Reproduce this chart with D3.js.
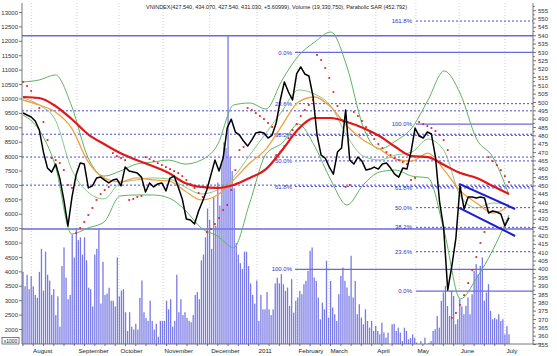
<!DOCTYPE html>
<html><head><meta charset="utf-8">
<script src="https://cdn.jsdelivr.net/npm/d3@7"></script>
<style>body{margin:0;background:#fff}text{font-family:Arial,"Liberation Sans",sans-serif}</style>
</head><body><svg id="c" width="557" height="356"></svg>
<script>
// ---- DATA (right-axis index units unless noted) ----
const title = "VNINDEX(427.540, 434.070, 427.540, 431.030, +5.60999), Volume (19,330,750), Parabolic SAR (452.792)";
const price = [493.7,492.5,491.3,488.9,483.5,470.3,460.7,458.3,463.1,454.7,
441.6,426.0,443.4,456.5,463.7,463.1,448.8,450.0,454.7,455.3,
453.5,451.8,453.5,454.1,450.0,461.3,458.9,458.3,457.7,455.3,
446.4,451.8,449.4,451.2,451.8,447.0,454.7,455.9,449.4,442.2,
430.2,429.6,427.2,435.0,441.0,447.6,456.5,465.5,458.9,466.7,
484.7,490.0,482.3,480.5,476.9,473.9,477.5,481.7,482.3,481.7,
478.7,480.5,487.7,501.5,512.3,506.3,501.5,517.1,521.3,517.1,
515.9,503.9,480.5,468.5,466.7,461.3,457.1,470.3,472.7,495.5,
465.5,463.1,467.3,464.9,459.5,460.1,461.3,460.1,463.1,463.7,
460.7,457.1,455.3,460.7,460.1,470.3,484.7,479.9,478.7,482.3,
481.1,467.3,440.4,424.8,387.6,402.0,418.8,450.0,436.2,443.4,
443.4,442.8,443.4,442.8,433.8,435.0,434.4,433.2,426.0,431.0];
const sar = [512.3,509.9,506.9,502.7,496.7,488.3,477.5,466.7,465.5,463.7,
459.5,450.6,448.8,421.8,424.8,428.4,432.6,436.8,441.6,445.2,
447.6,449.4,469.7,467.9,466.7,465.5,441.6,442.2,443.4,444.0,
467.3,466.1,464.9,463.7,462.5,461.3,460.1,458.9,457.7,455.9,
453.6,451.2,448.8,445.8,443.4,422.4,424.2,427.2,430.8,435.6,
438.6,447.6,459.5,471.5,473.3,496.7,495.5,493.7,491.9,490.1,
487.7,485.3,468.5,470.3,473.9,478.7,483.5,487.1,491.9,495.5,
498.5,501.5,528.5,525.5,520.7,514.7,506.3,497.9,489.5,449.4,
450.6,494.3,491.9,488.9,485.3,481.7,478.1,475.1,472.7,470.3,
468.5,466.7,465.5,464.3,463.1,453.6,454.8,488.3,487.1,485.9,
484.7,482.9,480.5,477.5,471.5,370.9,373.9,378.7,384.6,391.8,
399.6,407.4,415.8,422.4,467.3,464.9,462.5,459.5,455.9,452.4];
const maSlow = [503.3,502.7,497.9,490.1,481.1,475.1,469.7,465.5,461.9,457.7,451.8,449.4,448.8,450.6,454.8,460.1,471.5,484.1,490.7,490.7,488.3,484.7,479.9,473.3,467.9,467.3,462.5,457.7,454.8,450.0,445.2];
const maFast = [501.5,498.5,494.3,484.7,464.9,454.8,452.4,454.8,453.6,453.0,447.0,441.6,444.6,453.6,463.7,472.1,486.5,500.3,503.3,497.3,485.9,477.5,472.1,466.1,464.9,469.7,459.5,447.0,439.8,433.8,438.0];
const bbUpper = [512.3,513.5,516.5,497.9,467.3,455.9,458.9,463.1,464.3,465.5,463.1,465.5,474.5,498.5,499.7,496.1,513.5,527.9,536.2,542.2,521.3,485.3,472.1,476.9,484.7,501.5,518.9,505.1,478.1,467.3,444.6];
const bbMid = [502.7,498.5,489.5,460.0,446.4,442.2,451.8,453.6,454.8,454.2,449.4,445.2,447.6,455.4,468.5,481.7,494.9,507.5,505.1,497.9,479.9,467.9,465.5,468.5,470.3,478.1,470.9,444.0,436.8,439.8,438.6];
const bbLower = [492.5,483.5,461.9,421.2,424.8,428.4,444.0,444.6,444.6,442.8,435.6,424.8,420.0,413.0,440.0,469.1,475.7,487.1,473.9,453.6,438.6,450.6,458.3,459.5,455.9,454.8,423.0,382.3,394.8,411.6,432.6];
// volume (left-axis units), one bar per session
const volume = [4000,3500,3900,3400,3850,3500,3200,3100,4000,4800,
3350,4700,3900,3700,3200,3400,2500,3150,2100,4200,
4850,3800,3050,3200,5300,4500,5500,5100,5200,4600,
5200,4400,3450,3400,2800,4600,4800,5500,2900,4350,
3200,3250,3450,3000,3000,2800,4500,3150,3350,3400,
2600,1950,2600,2100,2000,2200,2000,3100,3700,2600,
2400,2300,3000,2300,2000,2200,1750,2300,2300,2300,
3000,2700,3050,2100,2300,3900,2600,3050,2500,2600,
2400,2300,2250,2500,3200,3300,3050,
4400,4600,5200,6200,5800,4800,6600,5600,7100,6300,7800,8500,8300,12200,8000,7500,6900,5000,4600,4300,4100,
4700,4700,4200,3600,3200,2900,3700,2300,3200,2700,2700,3300,2700,2500,2700,3600,3800,3600,
3921,3573,3341,3457,2819,3747,2587,2993,3109,3341,
3225,3573,3689,4037,4733,4849,3805,3689,3109,2355,
2935,2703,4385,2413,3689,2761,2529,2297,3225,3863,
4153,3689,3457,3167,4559,3109,3689,2529,2877,2413,
2181,2703,2297,2065,2297,1949,2123,1949,1833,2239,
1900,1717,1891,1485,2181,2200,1949,2065,1891,1601,2065,1949,
1659,1700,1833,1717,1543,1427,1601,1485,1717,1369,1543,
1601,1949,2007,2471,2065,2993,3283,3515,2819,2471,
3341,3167,2181,2355,3051,2800,2529,2819,3109,2529,3225,
4037,4269,3921,4211,4501,3000,3283,3573,2645,2355,2400,2355,
2529,2297,2355,1833,2123,1833];
const leftTicks = d3.range(2000, 13001, 500);
const rightTicks = d3.range(355, 556, 5);
const monthLabels = ["August","September","October","November","December","2011","February","March","April","May","June","July"];
const monthPos = [2.1,13.2,23.5,34.3,45.7,57.3,67.1,74.9,86.4,96.2,106.8,118.0]; // in price-sample index units
const levelValues = [540,495,481,467.3,450.5,424.2];
const levelSolid = [true,false,false,false,false,true];
const fibALabels = ["0.0%","23.6%","38.2%","50.0%","61.8%","100.0%"];
const fibAValues = [530,499.3,480.3,465,449.7,400];
const fibASolid = [true,false,false,false,false,true];
const fibBLabels = ["161.8%","100.0%","61.8%","50.0%","38.2%","23.6%","0.0%"];
const fibBValues = [548.8,487,448.8,437,425.2,410.6,387];
const fibBSolid = [false,true,false,false,false,false,true];
const channelUpper = [[106.8,451.2],[120.5,436.2]];
const channelLower = [[106.8,436.8],[120.5,420.0]];

// ---- LAYOUT ----
const L = 22, R = 533, T = 0, B = 344;
const svg = d3.select("#c");
const yR = d3.scaleLinear().domain([355.3, 561.41]).range([B, T]);
const yL = d3.scaleLinear().domain([1497, 13434]).range([B, T]);
const xP = d3.scaleLinear().domain([0, price.length-1]).range([23, 509]);
const xM = d3.scaleLinear().domain([0, maSlow.length-1]).range([23, 509]);
const xV = d3.scaleLinear().domain([0, volume.length-1]).range([23, 509]);

// month grid
svg.append("g").selectAll("line").data(monthPos).join("line")
  .attr("x1", d=>xP(d)).attr("x2", d=>xP(d)).attr("y1", 3).attr("y2", B)
  .attr("stroke", "#c4c4c4").attr("stroke-dasharray", "1,2").attr("stroke-width", 0.8);

// full-width level lines
svg.append("g").selectAll("line").data(levelValues).join("line")
  .attr("x1", L).attr("x2", R).attr("y1", d=>yR(d)).attr("y2", d=>yR(d))
  .attr("stroke", (d,i)=>levelSolid[i] ? "#6a6ae0" : "#4a4ae0")
  .attr("stroke-width", (d,i)=>levelSolid[i] ? 1.3 : 1)
  .attr("stroke-dasharray", (d,i)=>levelSolid[i] ? null : "2,2");

// volume bars
svg.append("g").selectAll("rect").data(volume).join("rect")
  .attr("x", (d,i)=>xV(i)-0.65).attr("width", 1.3)
  .attr("y", d=>yL(d)).attr("height", d=>B - yL(d))
  .attr("fill", "#7a7ae6");

// fib sets
function fib(labels, values, solid, x0, lx) {
  const g = svg.append("g");
  g.selectAll("line").data(values).join("line")
    .attr("x1", x0).attr("x2", R).attr("y1", d=>yR(d)).attr("y2", d=>yR(d))
    .attr("stroke", (d,i)=>solid[i] ? "#6a6ae0" : "#4a4ae0")
    .attr("stroke-width", (d,i)=>solid[i] ? 1.3 : 1)
    .attr("stroke-dasharray", (d,i)=>solid[i] ? null : "2,2");
  g.selectAll("text").data(values).join("text")
    .attr("x", lx).attr("y", d=>yR(d)).attr("dy", "0.35em")
    .attr("text-anchor", "end").attr("font-size", 6).attr("fill", "#3030d0")
    .text((d,i)=>labels[i]);
}
fib(fibALabels, fibAValues, fibASolid, 295, 292);
fib(fibBLabels, fibBValues, fibBSolid, 416, 412);

// bands and MAs
const lineM = d3.line().x((d,i)=>xM(i)).y(d=>yR(d)).curve(d3.curveMonotoneX);
[[bbUpper,"#5fb35f",1],[bbLower,"#5fb35f",1],[bbMid,"#7cc27c",0.9]].forEach(([arr,c,w])=>{
  svg.append("path").attr("d", lineM(arr)).attr("fill","none").attr("stroke",c).attr("stroke-width",w);
});
svg.append("path").attr("d", lineM(maFast)).attr("fill","none").attr("stroke","#f2a040").attr("stroke-width",1.3);
svg.append("path").attr("d", lineM(maSlow)).attr("fill","none").attr("stroke","#e01818").attr("stroke-width",2.2);

// SAR
svg.append("g").selectAll("rect").data(sar).join("rect")
  .attr("x",(d,i)=>xP(i)-0.9).attr("y",d=>yR(d)-0.9).attr("width",1.8).attr("height",1.8)
  .attr("fill","#e02828");

// price
svg.append("path").attr("d", d3.line().x((d,i)=>xP(i)).y(d=>yR(d))(price))
  .attr("fill","none").attr("stroke","#000").attr("stroke-width",1.5).attr("stroke-linejoin","round");

// channel
[channelUpper, channelLower].forEach(c=>{
  svg.append("line").attr("x1", xP(c[0][0])).attr("y1", yR(c[0][1]))
    .attr("x2", xP(c[1][0])).attr("y2", yR(c[1][1]))
    .attr("stroke","#1c1cd0").attr("stroke-width",2);
});

// axes
const ax = svg.append("g").attr("stroke","#555").attr("stroke-width",0.8);
ax.append("line").attr("x1",L).attr("x2",L).attr("y1",3).attr("y2",B);
ax.append("line").attr("x1",R).attr("x2",R).attr("y1",3).attr("y2",B);
ax.append("line").attr("x1",L).attr("x2",R+8).attr("y1",B).attr("y2",B);
ax.selectAll(".lt").data(leftTicks).join("line").attr("x1",L-3).attr("x2",L).attr("y1",d=>yL(d)).attr("y2",d=>yL(d));
ax.selectAll(".rt").data(rightTicks).join("line").attr("x1",R).attr("x2",R+3).attr("y1",d=>yR(d)).attr("y2",d=>yR(d));
ax.selectAll(".rm").data(rightTicks.map(d=>d+2.5).filter(d=>d<560)).join("line").attr("x1",R).attr("x2",R+1.8).attr("y1",d=>yR(d)).attr("y2",d=>yR(d));
ax.selectAll(".bt").data(d3.range(0, volume.length, 5)).join("line").attr("x1",d=>xV(d)).attr("x2",d=>xV(d)).attr("y1",B).attr("y2",B+2);

svg.append("g").selectAll("text").data(leftTicks).join("text")
  .attr("x", L-4).attr("y", d=>yL(d)).attr("dy","0.35em").attr("text-anchor","end")
  .attr("font-size",6).attr("fill","#333").text(d=>d);
svg.append("g").selectAll("text").data(rightTicks).join("text")
  .attr("x", R+5).attr("y", d=>yR(d)).attr("dy","0.35em")
  .attr("font-size",6).attr("fill","#333").text(d=>d);
svg.append("g").selectAll("text").data(monthPos).join("text")
  .attr("x", d=>xP(d)+1.5).attr("y", 353)
  .attr("font-size",6.2).attr("fill","#222").text((d,i)=>monthLabels[i]);

// volume scale box
svg.append("rect").attr("x",2).attr("y",337.5).attr("width",17).attr("height",6.5)
  .attr("fill","#fff").attr("stroke","#444").attr("stroke-width",0.7);
svg.append("text").attr("x",10.5).attr("y",342.6).attr("text-anchor","middle")
  .attr("font-size",5).attr("fill","#222").text("x1000");

// title
svg.append("text").attr("x",146).attr("y",9).attr("font-size",6)
  .attr("textLength",261).attr("lengthAdjust","spacingAndGlyphs")
  .attr("fill","#222").text(title);
</script></body></html>
